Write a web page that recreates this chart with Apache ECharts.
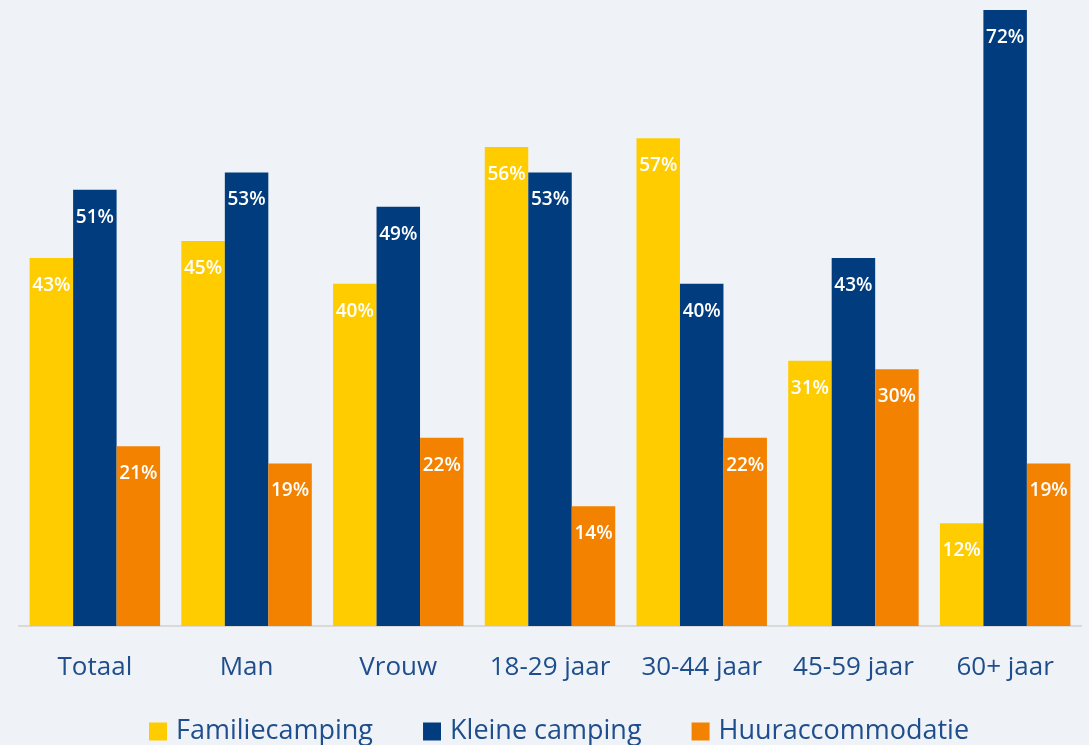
<!DOCTYPE html>
<html>
<head>
<meta charset="utf-8">
<script src="https://cdn.jsdelivr.net/npm/echarts@6/dist/echarts.min.js"></script>
<style>
  html, body { margin: 0; padding: 0; background: #eff3f8; }
  #chart { width: 1089px; height: 745px; }
</style>
</head>
<body>
<div id="chart"></div>
<script>
// categorieën en waarden (in %)
const categories = ['Totaal', 'Man', 'Vrouw', '18-29 jaar', '30-44 jaar', '45-59 jaar', '60+ jaar']
const familiecamping = [43, 45, 40, 56, 57, 31, 12]
const kleineCamping = [51, 53, 49, 53, 40, 43, 72]
const huuraccommodatie = [21, 19, 22, 14, 22, 30, 19]

const FONT = '"Open Sans", "Noto Sans", sans-serif'
const TEXT_COLOR = '#1f4e8c'

const chart = echarts.init(document.getElementById('chart'))

// gemeenschappelijke label-instellingen voor de balken
const barLabel = {
  show: true,
  position: 'insideTop',
  distance: 18,
  color: '#ffffff',
  fontFamily: FONT,
  fontSize: 19,
  fontWeight: 600,
  formatter: p => p.value + '%'
}

const makeSeries = (name, data, color) => ({
  name: name,
  type: 'bar',
  data: data,
  barGap: '0%',
  barCategoryGap: '14%',
  itemStyle: { color: color },
  label: barLabel
})

chart.setOption({
  backgroundColor: '#eff3f8',
  animation: false,
  grid: {
    left: 19,
    right: 8,
    top: 10,
    bottom: 119
  },
  legend: {
    top: 713,
    left: 144,
    itemWidth: 18,
    itemHeight: 18,
    itemGap: 50,
    icon: 'rect',
    textStyle: {
      color: TEXT_COLOR,
      fontFamily: FONT,
      fontSize: 27,
      padding: [0, 0, 0, 4]
    },
    data: ['Familiecamping', 'Kleine camping', 'Huuraccommodatie']
  },
  xAxis: {
    type: 'category',
    data: categories,
    axisTick: { show: false },
    axisLine: { lineStyle: { color: '#d9d9d9', width: 2 } },
    axisLabel: {
      interval: 0,
      hideOverlap: false,
      color: TEXT_COLOR,
      fontFamily: FONT,
      fontSize: 26,
      margin: 29
    }
  },
  yAxis: {
    type: 'value',
    min: 0,
    max: 72,
    show: false,
    splitLine: { show: false }
  },
  series: [
    makeSeries('Familiecamping', familiecamping, '#ffcc00'),
    makeSeries('Kleine camping', kleineCamping, '#003c7e'),
    makeSeries('Huuraccommodatie', huuraccommodatie, '#f38200')
  ]
})

window.addEventListener('resize', () => chart.resize())
</script>
</body>
</html>
